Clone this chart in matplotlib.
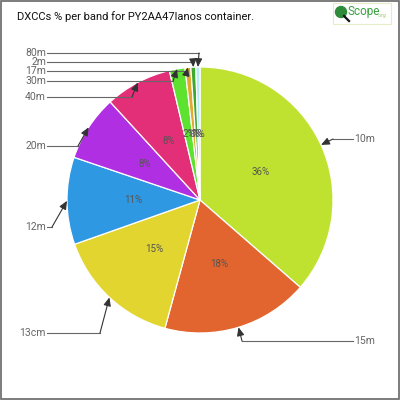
"""
DXCC share per band for one container, pie chart with leader-line labels.
"""

import matplotlib

matplotlib.use("Agg")
import matplotlib.pyplot as plt
import numpy as np
from matplotlib.patches import Circle, Rectangle

bands = ["10m", "15m", "13cm", "12m", "20m", "40m", "30m", "17m", "2m", "80m"]
shares = [36.4, 17.85, 15.35, 10.6, 8.0, 8.1, 1.9, 0.7, 0.6, 0.5]
colors = ["#bee22f", "#e2652f", "#e2d52f", "#2f98e2", "#b02fe2",
          "#e22f78", "#5ce22f", "#e2a82f", "#3fa82f", "#b4ecf8"]

# label layout in pixel coords (x, y from top): text anchor and elbow
label_xy = [(354, 139), (354, 341), (46, 333), (46, 227), (46, 146),
            (46, 97), (46, 81), (46, 71), (46, 62), (46, 53)]
elbow_xy = [(333, 139), (242, 341), (100, 333), (52, 227), (78, 146),
            (132, 97), (173, 81), (187, 71), (193, 62), (199, 53)]

H = 400
CX, CY, R = 200, 200, 133


def main() -> None:
    fig = plt.figure(figsize=(4, 4), dpi=100)
    ax = fig.add_axes([0, 0, 1, 1])

    wedges, _, autotexts = ax.pie(
        shares,
        colors=colors,
        startangle=90,
        counterclock=False,
        center=(CX, H - CY),
        radius=R,
        autopct="%.0f%%",
        pctdistance=0.5,
        wedgeprops=dict(edgecolor="white", linewidth=0.9),
        textprops=dict(color="#555555", fontsize=7, family="Roboto"),
        frame=True,
    )
    ax.set_xlim(0, 400)
    ax.set_ylim(0, 400)
    ax.set_aspect("equal")
    ax.axis("off")

    for w, name, (tx, ty), (ex, ey) in zip(wedges, bands, label_xy, elbow_xy):
        mid = np.deg2rad((w.theta1 + w.theta2) / 2)
        tip = (CX + R * np.cos(mid), H - CY + R * np.sin(mid))
        ha = "left" if tx > CX else "right"
        ax.text(tx, H - ty, name, ha=ha, va="center", fontsize=7.5,
                color="#666666", family="Roboto")
        start = tx - 1 if tx > CX else tx + 1
        ax.plot([start, ex], [H - ty, H - ey], color="#666666", lw=0.8)
        ax.annotate(
            "", xy=tip, xytext=(ex, H - ey),
            arrowprops=dict(arrowstyle="-|>,head_length=0.5,head_width=0.22",
                            color="#333333", lw=0.8, shrinkA=0, shrinkB=0,
                            mutation_scale=10),
        )

    # title
    fig.text(17 / 400, 1 - 17 / 400, "DXCCs % per band for PY2AA47lanos container.",
             fontsize=8, color="#111111", family="Roboto", va="center")

    # logo
    ax.add_patch(Rectangle((333, H - 24), 58, 21, fill=False,
                           edgecolor="#e6ecc8", lw=0.8))
    ax.add_patch(Circle((341, H - 12), 5.5, color="#2e8b3a"))
    ax.plot([344, 349], [H - 16, H - 21], color="#111111", lw=1.6)
    ax.text(348, H - 12, "Scope", fontsize=8.5, color="#3aa040",
            family="Roboto", va="center")
    ax.text(378, H - 15, ".org", fontsize=3.5, color="#9acb6a",
            family="Roboto", va="center")

    # frame around the image
    fig.patches.append(Rectangle((0.002, 0.002), 0.995, 0.995, fill=False,
                                 edgecolor="#666666", lw=1.2,
                                 transform=fig.transFigure, figure=fig))

    fig.savefig("out.png", dpi=100, facecolor="white")
    plt.close(fig)


if __name__ == "__main__":
    main()
